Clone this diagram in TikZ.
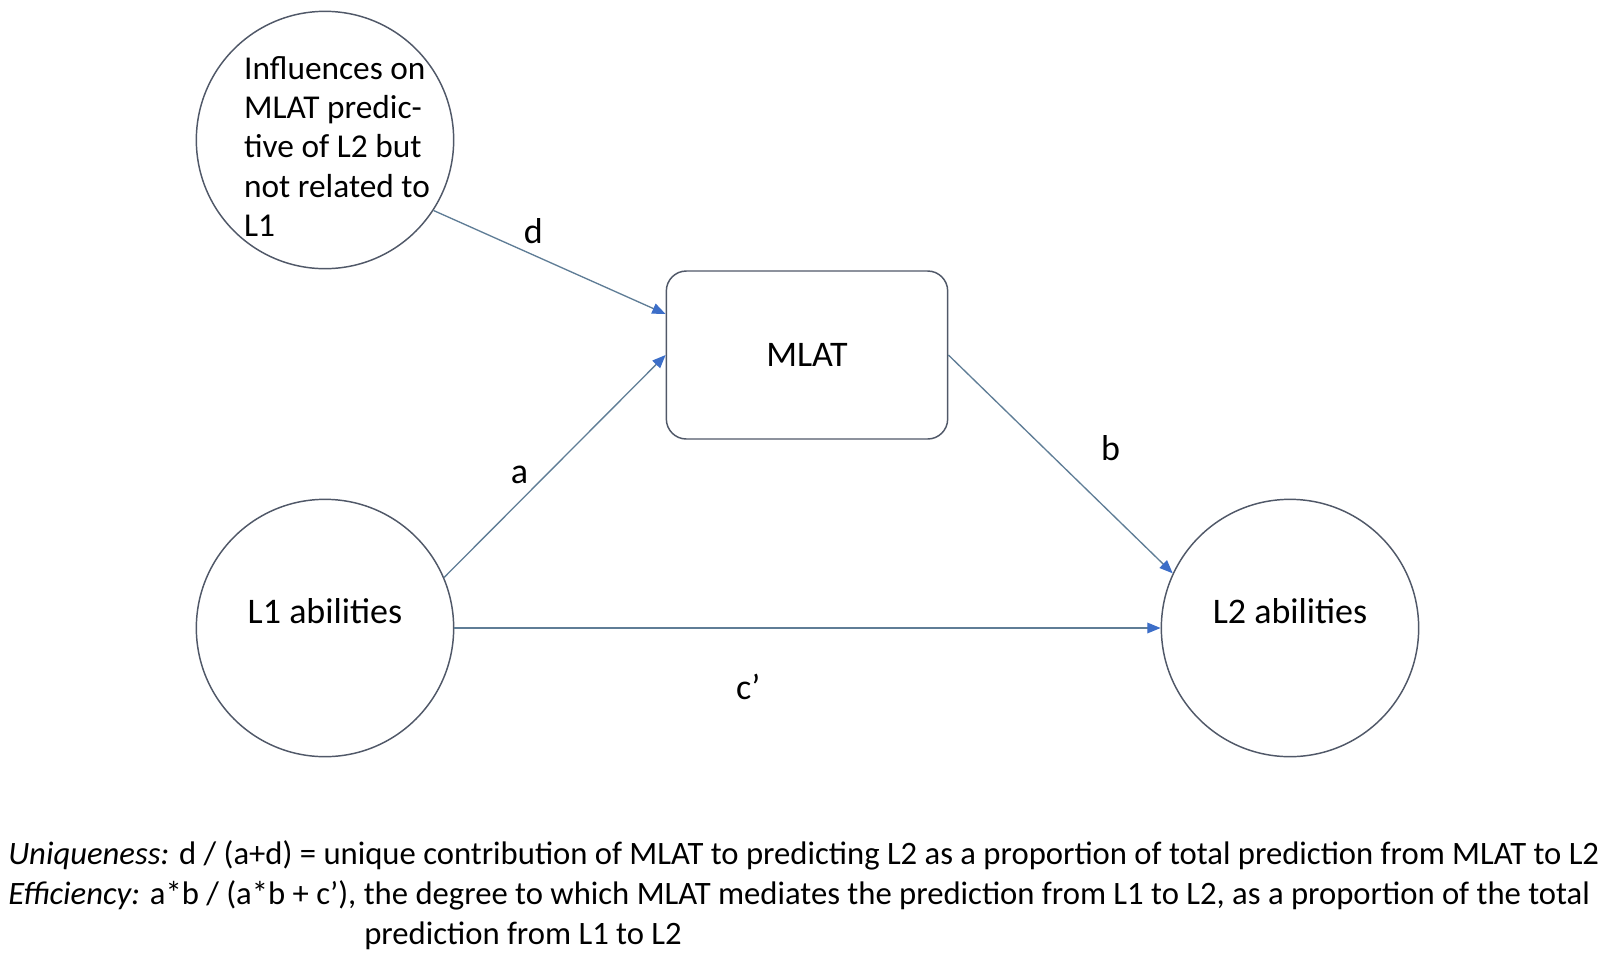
\documentclass[tikz,border=0pt]{standalone}
\usepackage{fontspec}
\setmainfont{Carlito}
\usetikzlibrary{shapes,calc,arrows.meta}

\definecolor{linegray}{RGB}{80,88,104}
\definecolor{pathgray}{RGB}{95,125,150}
\definecolor{arrowblue}{RGB}{60,110,200}

\tikzset{
  latent/.style={circle,draw=linegray,line width=1.1pt,minimum size=193pt,inner sep=0pt,
    font=\fontsize{27}{29.5}\selectfont},
  measure/.style={rectangle,rounded corners=15pt,draw=linegray,line width=1.1pt,
    minimum width=211pt,minimum height=126pt,font=\fontsize{27}{30}\selectfont},
  effect/.style={draw=pathgray,line width=1pt,
    -{Triangle[length=10pt,width=8pt,color=arrowblue,fill=arrowblue]}},
  coef/.style={font=\fontsize{27}{30}\selectfont,text=black}
}

\begin{document}
\begin{tikzpicture}[x=0.75pt,y=-0.75pt]
    \useasboundingbox (0,0) rectangle (1604,961);
    \node[latent,inner sep=-12pt,font=\fontsize{25}{29.5}\selectfont] (infl) at (325,140)
      {\hspace*{18pt}\rule{0pt}{95pt}\begin{tabular}{@{}l@{}}Influences on\\MLAT predic-\\tive of L2 but\\not related to\\L1\end{tabular}};
    \node[latent,text depth=26pt] (l1) at (325,628) {L1 abilities};
    \node[latent,text depth=26pt] (l2) at (1290,628) {L2 abilities};
    \node[measure] (mlat) at (807,355) {MLAT};
    \path (infl.-33) edge[effect] node[coef,pos=0.39,xshift=7pt,yshift=15pt] {d} ($(mlat.west)+(0,-41)$);
    \path (l1.23) edge[effect] node[coef,pos=0.40,xshift=-10pt,yshift=10pt] {a} (mlat.west);
    \path (mlat.east) edge[effect] node[coef,pos=0.58,xshift=24pt,yshift=25pt] {b} (l2.155);
    \path (l1.east) edge[effect] node[coef,pos=0.416,yshift=-44pt] {c’} (l2.west);
    % formulas below the diagram
    \node[anchor=north west,inner sep=0pt,align=left,font=\fontsize{24.5}{30}\selectfont] (note) at (8,840)
      {\textit{Uniqueness:} d / (a+d) = unique contribution of MLAT to predicting L2 as a proportion of total prediction from MLAT to L2\\
       \textit{Efficiency:} a*b / (a*b + c’), the degree to which MLAT mediates the prediction from L1 to L2, as a proportion of the total\\
       \hspace*{267pt}prediction from L1 to L2};
\end{tikzpicture}
\end{document}
